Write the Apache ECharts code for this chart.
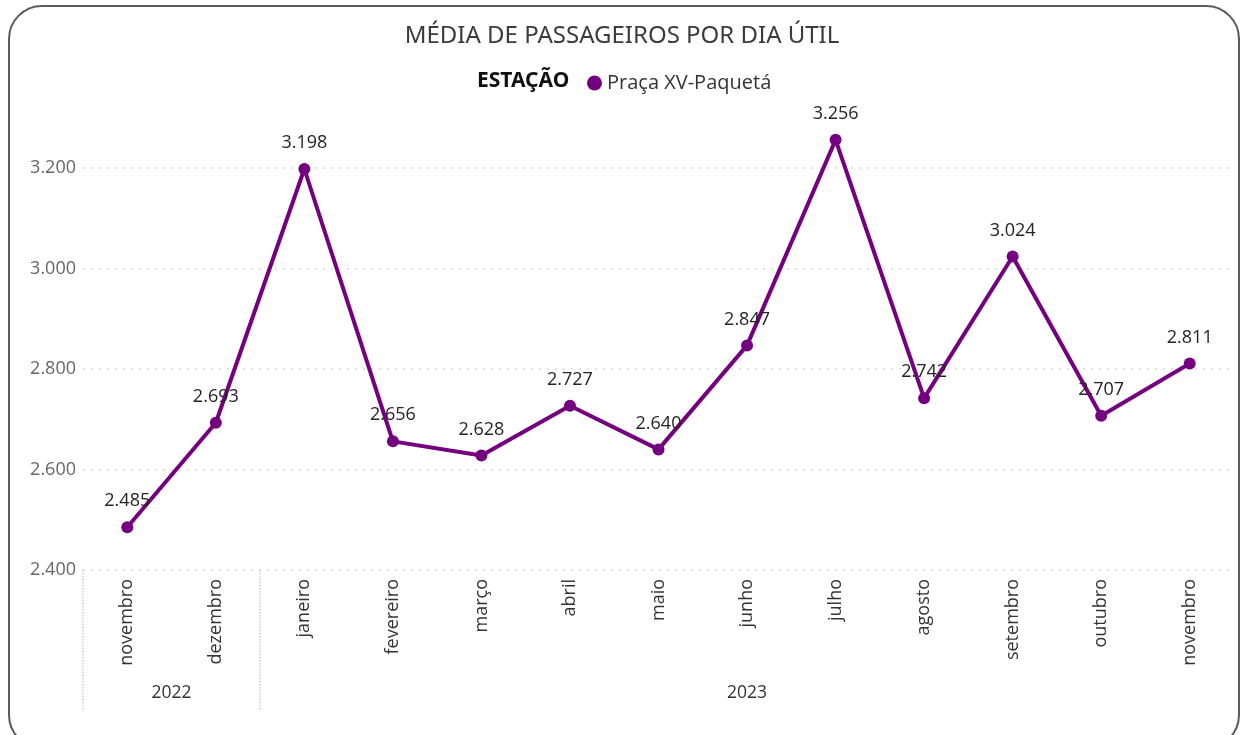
<!DOCTYPE html>
<html>
<head>
<meta charset="utf-8">
<script src="https://cdn.jsdelivr.net/npm/echarts@6/dist/echarts.min.js"></script>
<style>
  html, body { margin: 0; padding: 0; background: #fff; }
  #main { position: absolute; left: 0; top: 0; width: 1244px; height: 735px; }
  #frame {
    position: absolute; left: 8px; top: 5px; width: 1228px; height: 740px;
    border: 2px solid #5a5a5a; border-radius: 34px; pointer-events: none;
  }
</style>
</head>
<body>
<div id="main"></div>
<div id="frame"></div>
<script>
// dados
var meses = ["novembro", "dezembro", "janeiro", "fevereiro", "março", "abril", "maio",
  "junho", "julho", "agosto", "setembro", "outubro", "novembro"];
var media = [2485, 2693, 3198, 2656, 2628, 2727, 2640, 2847, 3256, 2742, 3024, 2707, 2811];
var anos = ["2022", "2023"];
var anoPos = [0.5, 7];          // centro de cada ano no eixo
var anoSep = [-0.5, 1.5];       // divisórias entre anos
var yTicks = [2400, 2600, 2800, 3000, 3200];

var FONT = "'Open Sans', 'Noto Sans', sans-serif";
function fmt(v) {
  return String(v).replace(/\B(?=(\d{3})+(?!\d))/g, ".");
}

var myChart = echarts.init(document.getElementById("main"));
myChart.setOption({
  animation: false,
  title: [
    {
      text: "MÉDIA DE PASSAGEIROS POR DIA ÚTIL",
      left: "center",
      top: 19,
      textStyle: { fontFamily: "'Noto Sans', sans-serif", fontSize: 24, fontWeight: "normal", color: "#3b3b3b" }
    },
    {
      text: "ESTAÇÃO",
      left: 472,
      top: 66,
      textStyle: { fontFamily: "'Noto Sans', sans-serif", fontSize: 21, fontWeight: "bold", color: "#111" }
    }
  ],
  legend: {
    left: 582,
    top: 68,
    icon: "circle",
    itemWidth: 15,
    itemHeight: 15,
    itemGap: 4,
    textStyle: { fontFamily: FONT, fontSize: 20, color: "#333" },
    data: ["Praça XV-Paquetá"]
  },
  grid: { left: 83, right: 10, top: 168, bottom: 165 },
  xAxis: [
    {
      type: "category",
      data: meses,
      axisLine: { show: false },
      axisTick: { show: false },
      axisLabel: {
        rotate: 90,
        margin: 9,
        fontFamily: FONT,
        fontSize: 18,
        color: "#333"
      }
    },
    {
      type: "value",
      position: "bottom",
      min: -0.5,
      max: 12.5,
      axisLine: { show: false },
      splitLine: { show: false },
      axisTick: {
        show: true,
        customValues: anoSep,
        length: 140,
        lineStyle: { color: "#ccc", type: "dotted", width: 1.5 }
      },
      axisLabel: {
        customValues: anoPos,
        margin: 114,
        fontFamily: FONT,
        fontSize: 17.5,
        color: "#333",
        formatter: function (v) { return anos[anoPos.indexOf(v)]; }
      }
    }
  ],
  yAxis: {
    type: "value",
    min: yTicks[0],
    max: yTicks[yTicks.length - 1],
    interval: 200,
    axisLine: { show: false },
    axisTick: { show: false },
    axisLabel: {
      margin: 7,
      fontFamily: FONT,
      fontSize: 18,
      color: "#666",
      formatter: fmt
    },
    splitLine: { lineStyle: { color: "#d8d8d8", type: [2, 6], width: 1.5 } }
  },
  series: [
    {
      name: "Praça XV-Paquetá",
      type: "line",
      data: media,
      clip: false,
      symbol: "circle",
      symbolSize: 12,
      lineStyle: { color: "#75007f", width: 4 },
      itemStyle: { color: "#75007f" },
      label: {
        show: true,
        position: "top",
        distance: 11,
        fontFamily: FONT,
        fontSize: 18,
        color: "#252423",
        formatter: function (p) { return fmt(p.value); }
      }
    }
  ]
});
</script>
</body>
</html>
